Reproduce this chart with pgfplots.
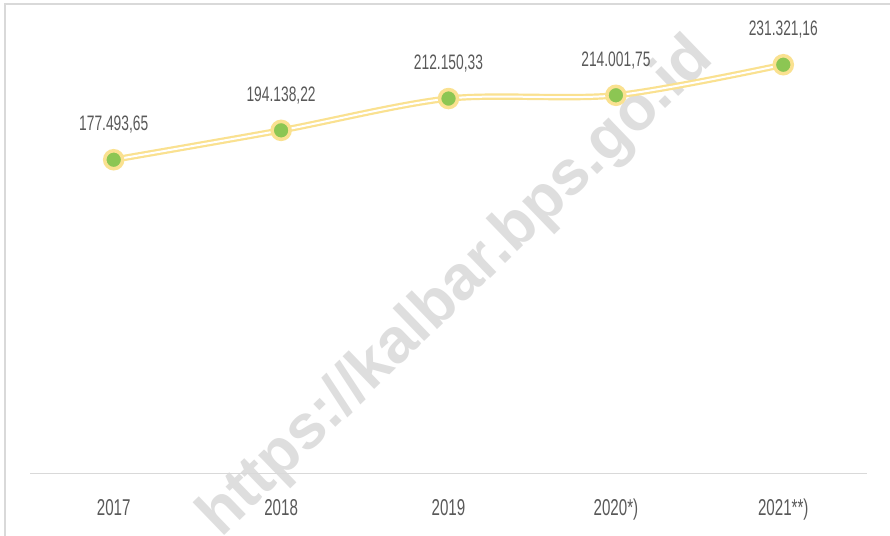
\documentclass[border=0pt]{standalone}
\usepackage{pgfplots}
\pgfplotsset{compat=1.18}
\usepackage{fontspec}
\setmainfont{Liberation Sans}[FakeStretch=0.66]
\newfontfamily\wmfont{Liberation Sans}
\definecolor{txt}{HTML}{595959}
\definecolor{wm}{HTML}{DEDEDE}
\definecolor{frame}{HTML}{D9D9D9}
\definecolor{lineY}{HTML}{FAE190}
\definecolor{mkG}{HTML}{8CC653}
\pgfplotstableread{
x y lab
0 177493.65 177.493,65
1 194138.22 194.138,22
2 212150.33 212.150,33
3 214001.75 214.001,75
4 231321.16 231.321,16
}\datatable
\begin{document}
\begin{tikzpicture}
\path[use as bounding box] (0bp,0bp) rectangle (890bp,536bp);
\fill[white] (0bp,0bp) rectangle (890bp,536bp);
\node[rotate=44, text=wm, font=\wmfont\bfseries\fontsize{63}{63}\selectfont] at (457bp,248bp) {https://kalbar.bps.go.id};
\draw[frame, line width=1.5bp] (5bp,0bp) -- (5bp,532bp) -- (890bp,532bp);
\begin{axis}[
  at={(113.7bp,63bp)}, anchor=origin,
  scale only axis, width=837bp, height=463bp,
  xmin=-0.5, xmax=4.5, ymin=0, ymax=262330,
  axis x line*=bottom, hide y axis,
  x axis line style={frame, line width=1bp, -},
  xtick={0,1,2,3,4},
  xticklabels={2017,2018,2019,2020*),2021**)},
  major tick length=0pt,
  xticklabel style={anchor=base, yshift=-42bp, inner sep=0pt, text=txt, font=\fontsize{23}{23}\selectfont},
  clip=false,
]
\addplot[lineY, line width=2.2bp, double=white, double distance=2bp, smooth, tension=0.5,
  mark=*, mark size=9bp,
  mark options={fill=mkG, draw=lineY, line width=3.5bp, double=none},
  nodes near coords, point meta=explicit symbolic,
  nodes near coords style={text=txt, inner sep=0pt, text depth=0pt, yshift=27bp, font=\fontsize{21}{21}\selectfont},
] table[x=x, y=y, meta=lab] {\datatable};
\end{axis}
\end{tikzpicture}
\end{document}
